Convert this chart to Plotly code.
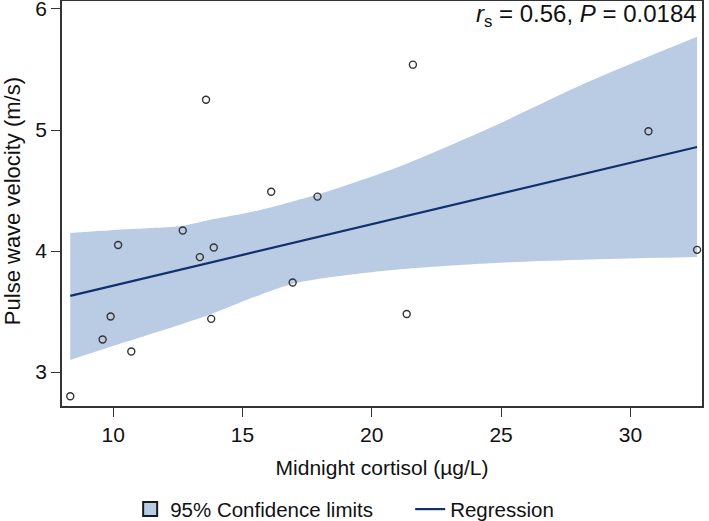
import plotly.graph_objects as go

# Scatter data
cortisol = [8.34, 9.59, 9.90, 10.19, 10.70, 12.69, 13.35, 13.59, 13.79, 13.89,
            16.11, 16.94, 17.90, 21.35, 21.59, 30.70, 32.58]
pwv = [2.80, 3.27, 3.46, 4.05, 3.17, 4.17, 3.95, 5.25, 3.44, 4.03,
       4.49, 3.74, 4.45, 3.48, 5.54, 4.99, 4.01]

# Regression line end points
reg_x = [8.34, 32.58]
reg_y = [3.63, 4.86]

# 95% confidence band
band_x = [8.34, 10.5, 12.7, 13.8, 15.7, 16.94, 18.25, 21.1, 24.6, 28.4, 32.58]
band_upper = [4.15, 4.18, 4.21, 4.26, 4.34, 4.41, 4.49, 4.70, 5.02, 5.40, 5.77]
band_lower = [3.10, 3.25, 3.40, 3.48, 3.64, 3.73, 3.78, 3.85, 3.90, 3.93, 3.95]

x_ticks = [10, 15, 20, 25, 30]
y_ticks = [3, 4, 5, 6]

FONT = "Arial, 'Liberation Sans', sans-serif"
BAND = "#b9cce4"
LINE = "#12306b"
TXT = "#111111"

fig = go.Figure()

fig.add_trace(go.Scatter(
    x=band_x, y=band_lower, mode="lines",
    line=dict(width=0, color=BAND, shape="spline", smoothing=0.8),
    hoverinfo="skip", showlegend=False))
fig.add_trace(go.Scatter(
    x=band_x, y=band_upper, mode="lines", fill="tonexty", fillcolor=BAND,
    line=dict(width=0, color=BAND, shape="spline", smoothing=0.8),
    hoverinfo="skip", showlegend=False))

# legend key for the band
fig.add_trace(go.Scatter(
    x=[None], y=[None], mode="markers", name="95% Confidence limits",
    legendrank=1,
    marker=dict(symbol="square", size=14, color=BAND,
                line=dict(color="#1a1a1a", width=2))))

fig.add_trace(go.Scatter(
    x=reg_x, y=reg_y, mode="lines", name="Regression", legendrank=2,
    line=dict(color=LINE, width=2.2)))

fig.add_trace(go.Scatter(
    x=cortisol, y=pwv, mode="markers", showlegend=False,
    marker=dict(symbol="circle-open", size=7, color="#333333",
                line=dict(width=1.4, color="#333333"))))

fig.add_annotation(
    xref="paper", yref="paper", x=0.995, y=0.965, xanchor="right",
    yanchor="middle",
    text="<i>r</i><sub>s</sub> = 0.56, <i>P</i> = 0.0184", showarrow=False,
    font=dict(family=FONT, size=24, color=TXT))

# y-axis title
fig.add_annotation(
    xref="paper", yref="paper", x=-0.078, y=0.506, xanchor="center",
    yanchor="middle", textangle=-90, showarrow=False,
    text="Pulse wave velocity (m/s)", font=dict(family=FONT, size=22, color=TXT))

axis_common = dict(
    showgrid=False, zeroline=False, showline=True, linecolor="#333333",
    linewidth=1.5, mirror=True, ticks="outside", ticklen=9, tickwidth=1.3,
    tickcolor="#333333", tickfont=dict(family=FONT, size=21, color=TXT),
    automargin=False, ticklabeloverflow="allow")

fig.update_xaxes(range=[8.02, 32.77], tickvals=x_ticks,
                 title=dict(text="Midnight cortisol (µg/L)",
                            font=dict(family=FONT, size=21, color=TXT)),
                 **axis_common)
fig.update_yaxes(range=[2.72, 6.066], tickvals=y_ticks, **axis_common)

fig.update_layout(
    width=709, height=521,
    margin=dict(l=62, r=7, t=1, b=115, autoexpand=False),
    plot_bgcolor="white", paper_bgcolor="white",
    font=dict(family=FONT, size=20, color=TXT),
    legend=dict(orientation="h", x=0.1065, xanchor="left",
                y=-0.255, yanchor="middle",
                font=dict(family=FONT, size=20.5),
                entrywidth=235, traceorder="normal", tracegroupgap=0),
)

fig.write_html(
    "out.html",
    config={"displayModeBar": False},
    post_script="document.body.style.margin='0';document.body.style.padding='0';")
